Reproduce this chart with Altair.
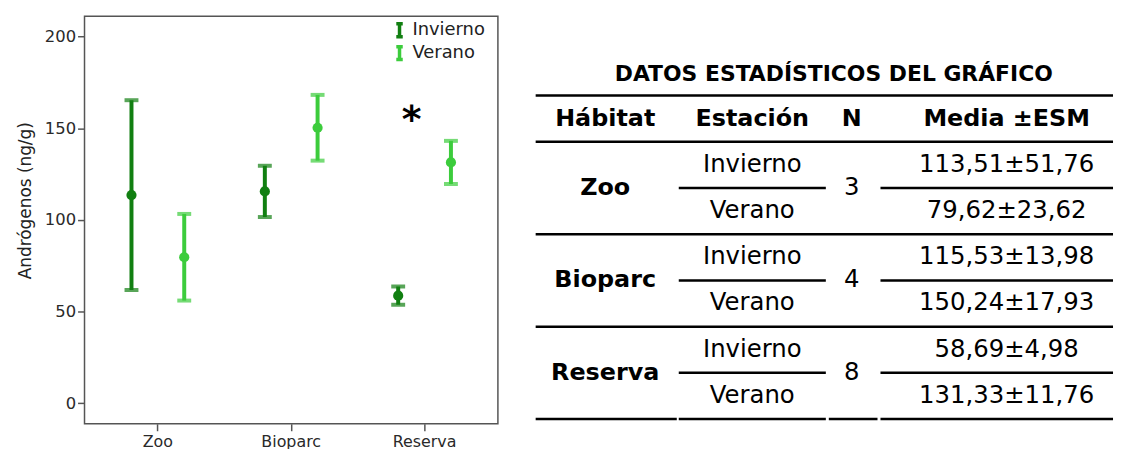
import altair as alt
import pandas as pd

# ---------------- data ----------------
habitats = ["Zoo", "Bioparc", "Reserva"]
seasons = ["Invierno", "Verano"]
n_values = [3, 4, 8]
mean_invierno = [113.51, 115.53, 58.69]
sem_invierno = [51.76, 13.98, 4.98]
mean_verano = [79.62, 150.24, 131.33]
sem_verano = [23.62, 17.93, 11.76]
y_ticks = [0, 50, 100, 150, 200]
y_title = "Andrógenos (ng/g)"
table_title = "DATOS ESTADÍSTICOS DEL GRÁFICO"
table_headers = ["Hábitat", "Estación", "N", "Media ±ESM"]
signif_habitat = "Reserva"
signif_label = "*"
signif_value = 154

# ---------------- style / layout ----------------
FONT = "DejaVu Sans"
COLORS = ["#117f11", "#3ccc3c"]
AXIS_COL = "#555555"
TEXT_COL = "#2a2a2a"
PLOT_W, PLOT_H = 416, 410
TABLE_W = 581
# table column extents (pixels inside the table panel) and text centres
COLS = [(0, 142), (144, 292), (295, 344), (347, 581)]
TEXT_CX = [70, 218, 318, 474]

rows = []
for i, h in enumerate(habitats):
    for s, means, sems in (("Invierno", mean_invierno, sem_invierno),
                           ("Verano", mean_verano, sem_verano)):
        m, e = means[i], sems[i]
        rows.append({"habitat": h, "season": s, "mean": m, "sem": e,
                     "lo": m - e, "hi": m + e})
df = pd.DataFrame(rows)

color_scale = alt.Scale(domain=seasons, range=COLORS)
x_enc = alt.X("habitat:N", sort=habitats,
              scale=alt.Scale(paddingInner=0, paddingOuter=0.05),
              axis=alt.Axis(title=None, labelAngle=0, labelFontSize=16,
                            labelFont=FONT, labelColor=TEXT_COL, tickSize=7,
                            tickColor=AXIS_COL, tickWidth=1.5, domain=False,
                            labelPadding=3))
xo_enc = alt.XOffset("season:N", sort=seasons,
                     scale=alt.Scale(paddingInner=0, paddingOuter=0.264))
y_scale = alt.Scale(domain=[-11.2, 211], nice=False, zero=False)
y_axis = alt.Axis(values=y_ticks, grid=False, domain=False, tickSize=7,
                  tickColor=AXIS_COL, tickWidth=1.5, labelFontSize=16.5,
                  labelFont=FONT, labelColor=TEXT_COL, labelPadding=2,
                  title=y_title, titleFont=FONT, titleFontSize=17,
                  titleFontWeight="normal", titleColor="#222222",
                  titleX=-59, titleY=185, titleAngle=270,
                  titleBaseline="middle", titleAlign="center")

base = alt.Chart(df)
bars = base.mark_rule(strokeWidth=4).encode(
    x=x_enc, xOffset=xo_enc,
    y=alt.Y("lo:Q", scale=y_scale, axis=y_axis), y2="hi:Q",
    color=alt.Color("season:N", scale=color_scale,
                    legend=alt.Legend(title=None, orient="none", legendX=308,
                                      legendY=5, padding=0,
                                      symbolType="M-0.5,-1H0.5M0,-1V1M-0.5,1H0.5",
                                      symbolSize=169, symbolStrokeWidth=3.5,
                                      labelFontSize=18, labelFont=FONT,
                                      labelColor="#222222", labelOffset=4,
                                      rowPadding=-7)))
cap_hi = base.mark_tick(thickness=4, size=14).encode(
    x=x_enc, xOffset=xo_enc, y=alt.Y("hi:Q", scale=y_scale),
    color=alt.Color("season:N", scale=color_scale, legend=None))
cap_lo = base.mark_tick(thickness=4, size=14).encode(
    x=x_enc, xOffset=xo_enc, y=alt.Y("lo:Q", scale=y_scale),
    color=alt.Color("season:N", scale=color_scale, legend=None))
points = base.mark_circle(size=105, opacity=1).encode(
    x=x_enc, xOffset=xo_enc, y=alt.Y("mean:Q", scale=y_scale),
    color=alt.Color("season:N", scale=color_scale, legend=None))
star = alt.Chart(pd.DataFrame({"habitat": [signif_habitat],
                               "v": [signif_value],
                               "t": [signif_label]})).mark_text(
    fontSize=38, fontWeight="bold", font=FONT, color="black", dx=-13,
    baseline="middle").encode(
    x=alt.X("habitat:N", sort=habitats), y=alt.Y("v:Q", scale=y_scale),
    text="t:N")

plot = alt.layer(bars, cap_hi, cap_lo, points, star).properties(
    width=PLOT_W, height=PLOT_H,
    view=alt.ViewBackground(stroke=AXIS_COL, strokeWidth=1.5))

# ---------------- table ----------------
def fmt(v):
    return f"{v:.2f}".replace(".", ",")

cells = []
for j, h in enumerate(table_headers):
    cells.append({"x": TEXT_CX[j], "row": 0, "t": h, "bold": 1})
for i, h in enumerate(habitats):
    r1 = 1 + 2 * i
    cells.append({"x": TEXT_CX[0], "row": r1 + 0.5, "t": h, "bold": 1})
    cells.append({"x": TEXT_CX[2], "row": r1 + 0.5, "t": str(n_values[i]), "bold": 0})
    cells.append({"x": TEXT_CX[1], "row": r1, "t": "Invierno", "bold": 0})
    cells.append({"x": TEXT_CX[1], "row": r1 + 1, "t": "Verano", "bold": 0})
    cells.append({"x": TEXT_CX[3], "row": r1,
                  "t": f"{fmt(mean_invierno[i])}±{fmt(sem_invierno[i])}", "bold": 0})
    cells.append({"x": TEXT_CX[3], "row": r1 + 1,
                  "t": f"{fmt(mean_verano[i])}±{fmt(sem_verano[i])}", "bold": 0})
cells_df = pd.DataFrame(cells)

lines = []
for r in (-0.5, 0.5, 2.5, 4.5):
    lines.append({"x0": 0, "x1": TABLE_W, "row": r})
for c in COLS:
    lines.append({"x0": c[0], "x1": c[1], "row": 6.5})
for i in range(len(habitats)):
    r = 1.5 + 2 * i
    for c in (COLS[1], COLS[3]):
        lines.append({"x0": c[0], "x1": c[1], "row": r})
lines_df = pd.DataFrame(lines)

tx = alt.Scale(domain=[0, TABLE_W], range=[0, TABLE_W])
ty = alt.Scale(domain=[0, 6], range=[103, 382])

tlines = alt.Chart(lines_df).mark_rule(strokeWidth=2.5, color="black").encode(
    x=alt.X("x0:Q", scale=tx, axis=None), x2="x1:Q",
    y=alt.Y("row:Q", scale=ty, axis=None))
t_reg = alt.Chart(cells_df).transform_filter("datum.bold == 0").mark_text(
    fontSize=24.5, font=FONT, color="black", baseline="middle").encode(
    x=alt.X("x:Q", scale=tx, axis=None), y=alt.Y("row:Q", scale=ty, axis=None),
    text="t:N")
t_bold = alt.Chart(cells_df).transform_filter("datum.bold == 1").mark_text(
    fontSize=24, font=FONT, fontWeight="bold", color="black",
    baseline="middle").encode(
    x=alt.X("x:Q", scale=tx, axis=None), y=alt.Y("row:Q", scale=ty, axis=None),
    text="t:N")
t_title = alt.Chart(pd.DataFrame({"t": [table_title]})).mark_text(
    fontSize=22, font=FONT, fontWeight="bold", color="black",
    baseline="middle").encode(
    x=alt.value(300), y=alt.value(58), text="t:N")

table = alt.layer(tlines, t_reg, t_bold, t_title).properties(
    width=TABLE_W, height=PLOT_H,
    view=alt.ViewBackground(stroke="transparent"))

chart = alt.hconcat(plot, table, spacing=35).properties(
    padding={"left": 8, "top": 6, "right": 0, "bottom": 0}
).configure(background="white")

chart.save("out.html", embed_options={"renderer": "svg", "actions": False})
